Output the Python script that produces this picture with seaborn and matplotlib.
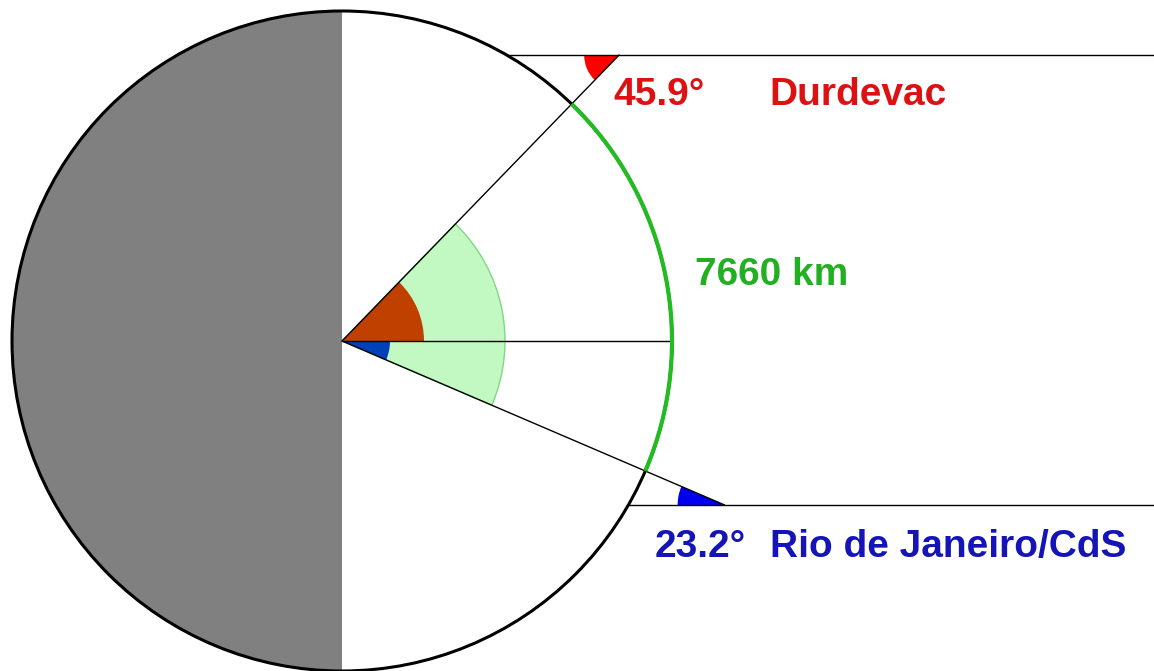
import numpy as np
import matplotlib
matplotlib.use("Agg")
import matplotlib.pyplot as plt
from matplotlib.patches import Wedge, Circle, Arc
import seaborn as sns

# data
places = ["Durdevac", "Rio de Janeiro/CdS"]
latitudes = [45.9, -23.2]
distance_km = 7660

# layout (pixel units, y measured upwards)
W, H = 1154, 671
cx, cy, R = 342, 330, 330
horizon_y = [616, 166]          # height of the horizontal lines
place_colors = ["#dd1111", "#1414b8"]
wedge_colors = ["#ff0000", "#0000ee"]
wedge_r = [35, 47]
label_pos = [(613, 566, 769), (655, 114, 770)]
FS = 28

sns.set_theme(style="white")
plt.rcParams["font.family"] = ["Liberation Sans", "DejaVu Sans"]

fig = plt.figure(figsize=(W / 100, H / 100), dpi=100)
ax = fig.add_axes([0, 0, 1, 1])
ax.set_xlim(0, W)
ax.set_ylim(0, H)
ax.set_axis_off()

# night half of the globe
ax.add_patch(Wedge((cx, cy), R, 90, 270, facecolor="#808080", edgecolor="none", zorder=1))

lat_n, lat_s = max(latitudes), min(latitudes)
# central angle wedges
ax.add_patch(Wedge((cx, cy), 163, lat_s, lat_n, facecolor="#c2f8c2",
                   edgecolor="#80d880", lw=1, zorder=2))
ax.add_patch(Wedge((cx, cy), 82, 0, lat_n, facecolor="#c04000", edgecolor="none", zorder=3))
ax.add_patch(Wedge((cx, cy), 48, lat_s, 0, facecolor="#0040b8", edgecolor="none", zorder=3))

# equator line
ax.plot([cx, cx + R], [cy, cy], color="black", lw=1, zorder=4)

for lat, hy, col, wcol, wr, (tx, ty, px), name in zip(
        latitudes, horizon_y, place_colors, wedge_colors, wedge_r, label_pos, places):
    t = np.radians(lat)
    # ray from centre until it meets the horizontal line
    L = (hy - cy) / np.sin(t)
    ax_, ay_ = cx + L * np.cos(t), hy
    ax.plot([cx, ax_], [cy, ay_], color="black", lw=1, zorder=4)
    # horizontal line from the circle to the right edge
    x0 = cx + np.sqrt(R ** 2 - (hy - cy) ** 2)
    ax.plot([x0, W], [hy, hy], color="black", lw=1, zorder=4)
    # angle marker at the apex
    if lat > 0:
        ax.add_patch(Wedge((ax_, ay_), wr, 180, 180 + lat, facecolor=wcol,
                           edgecolor="none", zorder=3))
    else:
        ax.add_patch(Wedge((ax_, ay_), wr, 180 + lat, 180, facecolor=wcol,
                           edgecolor="none", zorder=3))
    ax.text(tx, ty, f"{abs(lat)}°", color=col, fontsize=FS, fontweight="bold",
            ha="left", va="baseline", zorder=6)
    ax.text(px, ty, name, color=col, fontsize=FS, fontweight="bold",
            ha="left", va="baseline", zorder=6)

# globe outline and great-circle arc
ax.add_patch(Circle((cx, cy), R, fill=False, edgecolor="black", lw=2.2, zorder=5))
ax.add_patch(Arc((cx, cy), 2 * R, 2 * R, theta1=lat_s, theta2=lat_n,
                 color="#22bb22", lw=3, zorder=6))
ax.text(695, 386, f"{distance_km} km", color="#22b022", fontsize=FS,
        fontweight="bold", ha="left", va="baseline", zorder=6)

fig.savefig("out.png", dpi=100)
